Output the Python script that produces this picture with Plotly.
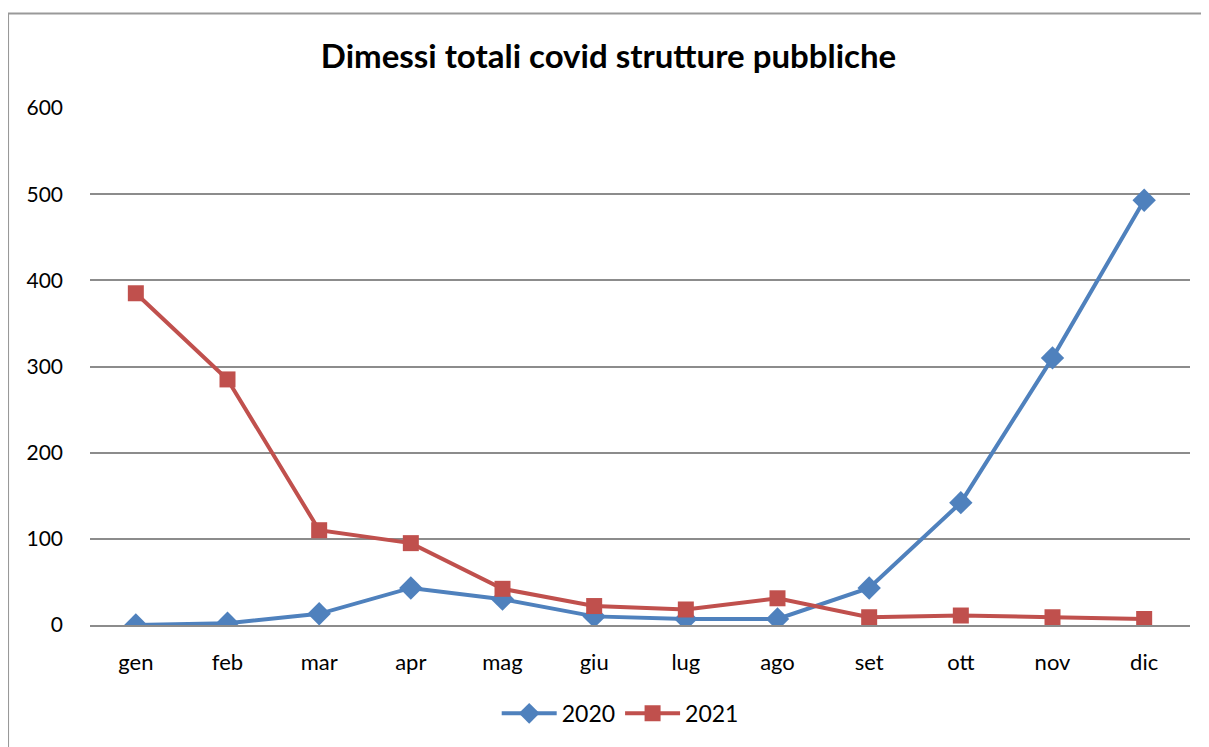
import plotly.graph_objects as go

mesi = ["gen", "feb", "mar", "apr", "mag", "giu", "lug", "ago", "set", "ott", "nov", "dic"]
dimessi_2020 = [0, 2, 13, 43, 30, 10, 7, 7, 43, 142, 310, 493]
dimessi_2021 = [385, 285, 110, 95, 42, 22, 18, 31, 9, 11, 9, 7]

font_nome = "Lato, Liberation Sans, sans-serif"

fig = go.Figure()
fig.add_trace(go.Scatter(x=mesi, y=dimessi_2020, name="2020", mode="lines+markers",
                         line=dict(color="#4F81BD", width=4),
                         marker=dict(symbol="diamond", size=18, color="#4F81BD")))
fig.add_trace(go.Scatter(x=mesi, y=dimessi_2021, name="2021", mode="lines+markers",
                         line=dict(color="#C0504D", width=4),
                         marker=dict(symbol="square", size=16, color="#C0504D")))

# la pagina html ha 8px di margine sul body: figura un po' piu' piccola
fig.update_layout(
    width=1201, height=739,
    margin=dict(l=82, r=19, t=100, b=120),
    paper_bgcolor="white", plot_bgcolor="white",
    font=dict(family=font_nome, size=21, color="black"),
    title=dict(text="<b>Dimessi totali covid strutture pubbliche</b>",
               x=0.5, xanchor="center", y=0.934, yanchor="middle",
               font=dict(size=33, family=font_nome)),
    legend=dict(orientation="h", x=0.482, xanchor="center", y=-0.171, yanchor="middle",
                font=dict(size=23), itemwidth=55),
    showlegend=True,
)
fig.update_xaxes(range=[-0.5, 11.5], showgrid=False, showline=True, linecolor="#8c8c8c",
                 linewidth=1.5, ticks="", ticklabelstandoff=17, tickfont=dict(size=22))
fig.update_yaxes(range=[0, 600], dtick=100, showgrid=True, gridcolor="#8c8c8c", gridwidth=1.5,
                 zeroline=False, showline=False, ticks="", ticklabelstandoff=26)

fig.add_shape(type="rect", xref="paper", yref="paper", x0=-0.0745, x1=1.05, y0=-0.3, y1=1.183,
              line=dict(color="#999999", width=2), fillcolor="rgba(0,0,0,0)", layer="below")

fig.write_html("out.html")
